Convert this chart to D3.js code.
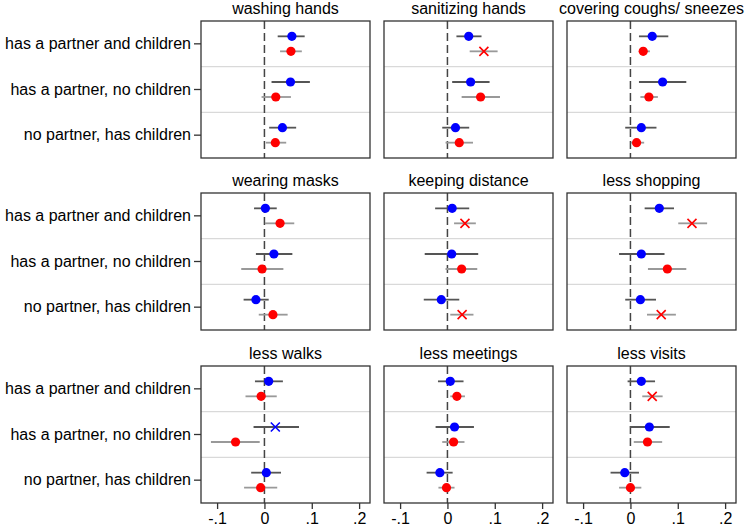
<!DOCTYPE html>
<html>
<head>
<meta charset="utf-8">
<script src="https://cdn.jsdelivr.net/npm/d3@7"></script>
<style>
  body { margin: 0; background: #fff; }
  text { font-family: "Liberation Sans", Arial, sans-serif; fill: #000; }
</style>
</head>
<body>
<svg id="chart" width="750" height="531"></svg>
<script>
const categories = ["has a partner and children", "has a partner, no children", "no partner, has children"];
const panels = ["washing hands", "sanitizing hands", "covering coughs/ sneezes",
                "wearing masks", "keeping distance", "less shopping",
                "less walks", "less meetings", "less visits"];
const xTicks = [-0.1, 0, 0.1, 0.2];
const xTickLabels = ["-.1", "0", ".1", ".2"];

// blue series (estimate, lower, upper), one row per panel, one value per category
const blueEst = [[0.058, 0.055, 0.038], [0.045, 0.049, 0.017], [0.046, 0.068, 0.023],
                 [0.002, 0.020, -0.018], [0.010, 0.009, -0.013], [0.061, 0.023, 0.021],
                 [0.009, 0.023, 0.004], [0.006, 0.015, -0.016], [0.023, 0.040, -0.012]];
const blueLo  = [[0.028, 0.015, 0.010], [0.019, 0.010, -0.011], [0.018, 0.018, -0.011],
                 [-0.022, -0.018, -0.044], [-0.026, -0.048, -0.050], [0.030, -0.024, -0.011],
                 [-0.020, -0.023, -0.028], [-0.020, -0.025, -0.044], [-0.006, -0.001, -0.042]];
const blueHi  = [[0.085, 0.096, 0.067], [0.072, 0.089, 0.046], [0.080, 0.118, 0.055],
                 [0.026, 0.059, 0.009], [0.046, 0.065, 0.025], [0.092, 0.072, 0.054],
                 [0.039, 0.073, 0.035], [0.034, 0.056, 0.011], [0.052, 0.083, 0.018]];
// red series
const redEst = [[0.056, 0.024, 0.023], [0.077, 0.070, 0.025], [0.027, 0.039, 0.013],
                [0.033, -0.005, 0.018], [0.037, 0.030, 0.031], [0.130, 0.078, 0.065],
                [-0.007, -0.061, -0.008], [0.020, 0.013, -0.002], [0.046, 0.036, 0.000]];
const redLo  = [[0.033, -0.006, 0.003], [0.047, 0.030, -0.004], [0.018, 0.021, 0.001],
                [0.001, -0.049, -0.012], [0.014, -0.004, 0.006], [0.101, 0.037, 0.035],
                [-0.040, -0.113, -0.043], [0.006, -0.011, -0.019], [0.025, 0.007, -0.024]];
const redHi  = [[0.079, 0.056, 0.046], [0.106, 0.111, 0.054], [0.041, 0.058, 0.029],
                [0.063, 0.040, 0.049], [0.060, 0.063, 0.055], [0.162, 0.118, 0.096],
                [0.026, -0.010, 0.027], [0.037, 0.036, 0.015], [0.068, 0.067, 0.023]];
// estimates drawn with an x instead of a dot
const blueCross = [[6, 1]];
const redCross = [[1, 0], [4, 0], [4, 2], [5, 0], [5, 2], [8, 0]];

const svg = d3.select("#chart");
const colX = [201, 384, 567];
const rowY = [21, 193, 366];
const panelW = 169;
const panelH = 137;

const isCross = (list, p, c) => list.some(d => d[0] === p && d[1] === c);

panels.forEach((title, p) => {
    const col = p % 3;
    const row = Math.floor(p / 3);
    const g = svg.append("g")
        .attr("transform", `translate(${colX[col]},${rowY[row]})`);

    const x = d3.scaleLinear().domain([-0.134, 0.223]).range([0, panelW]);
    const y = d3.scaleBand().domain(categories).range([0, panelH]);

    // separators between categories
    g.selectAll("line.sep")
        .data(categories.slice(1))
        .join("line")
        .attr("class", "sep")
        .attr("x1", 0).attr("x2", panelW)
        .attr("y1", d => y(d)).attr("y2", d => y(d))
        .attr("stroke", "#d9d9d9")
        .attr("stroke-width", 1.2);

    // zero reference line
    g.append("line")
        .attr("x1", x(0)).attr("x2", x(0))
        .attr("y1", 0).attr("y2", panelH)
        .attr("stroke", "#444")
        .attr("stroke-width", 1.5)
        .attr("stroke-dasharray", "8,4");

    const series = [
        {est: blueEst[p], lo: blueLo[p], hi: blueHi[p], color: "#0000ff", ci: "#555", off: -7.5, cross: blueCross},
        {est: redEst[p], lo: redLo[p], hi: redHi[p], color: "#ff0000", ci: "#999", off: 7.5, cross: redCross}
    ];

    series.forEach(s => {
        const cy = c => y(c) + y.bandwidth() / 2 + s.off;
        g.selectAll(null)
            .data(categories)
            .join("line")
            .attr("x1", (c, i) => x(s.lo[i]))
            .attr("x2", (c, i) => x(s.hi[i]))
            .attr("y1", cy).attr("y2", cy)
            .attr("stroke", s.ci)
            .attr("stroke-width", 1.8);

        categories.forEach((c, i) => {
            const px = x(s.est[i]);
            const py = cy(c);
            if (isCross(s.cross, p, i)) {
                const r = 4.5;
                g.append("path")
                    .attr("d", `M${px - r},${py - r}L${px + r},${py + r}M${px - r},${py + r}L${px + r},${py - r}`)
                    .attr("stroke", s.color)
                    .attr("stroke-width", 1.6)
                    .attr("fill", "none");
            } else {
                g.append("circle")
                    .attr("cx", px).attr("cy", py)
                    .attr("r", 4.6)
                    .attr("fill", s.color);
            }
        });
    });

    // frame
    g.append("rect")
        .attr("width", panelW).attr("height", panelH)
        .attr("fill", "none")
        .attr("stroke", "#333")
        .attr("stroke-width", 1.3);

    g.append("text")
        .attr("x", panelW / 2)
        .attr("y", -7)
        .attr("text-anchor", "middle")
        .style("font-size", "16px")
        .text(title);

    if (col === 0) {
        const yAxis = d3.axisLeft(y).tickSize(7).tickPadding(3);
        const ya = g.append("g").call(yAxis);
        ya.select(".domain").remove();
        ya.selectAll(".tick line").attr("stroke", "#333").attr("stroke-width", 1.3);
        ya.selectAll(".tick text").style("font-size", "16px").attr("fill", "#000");
    }

    if (row === 2) {
        const xAxis = d3.axisBottom(x)
            .tickValues(xTicks)
            .tickFormat((d, i) => xTickLabels[i])
            .tickSize(6).tickPadding(4);
        const xa = g.append("g")
            .attr("transform", `translate(0,${panelH})`)
            .call(xAxis);
        xa.select(".domain").remove();
        xa.selectAll(".tick line").attr("stroke", "#333").attr("stroke-width", 1.3);
        xa.selectAll(".tick text").style("font-size", "16px").attr("fill", "#000");
    }
});
</script>
</body>
</html>
